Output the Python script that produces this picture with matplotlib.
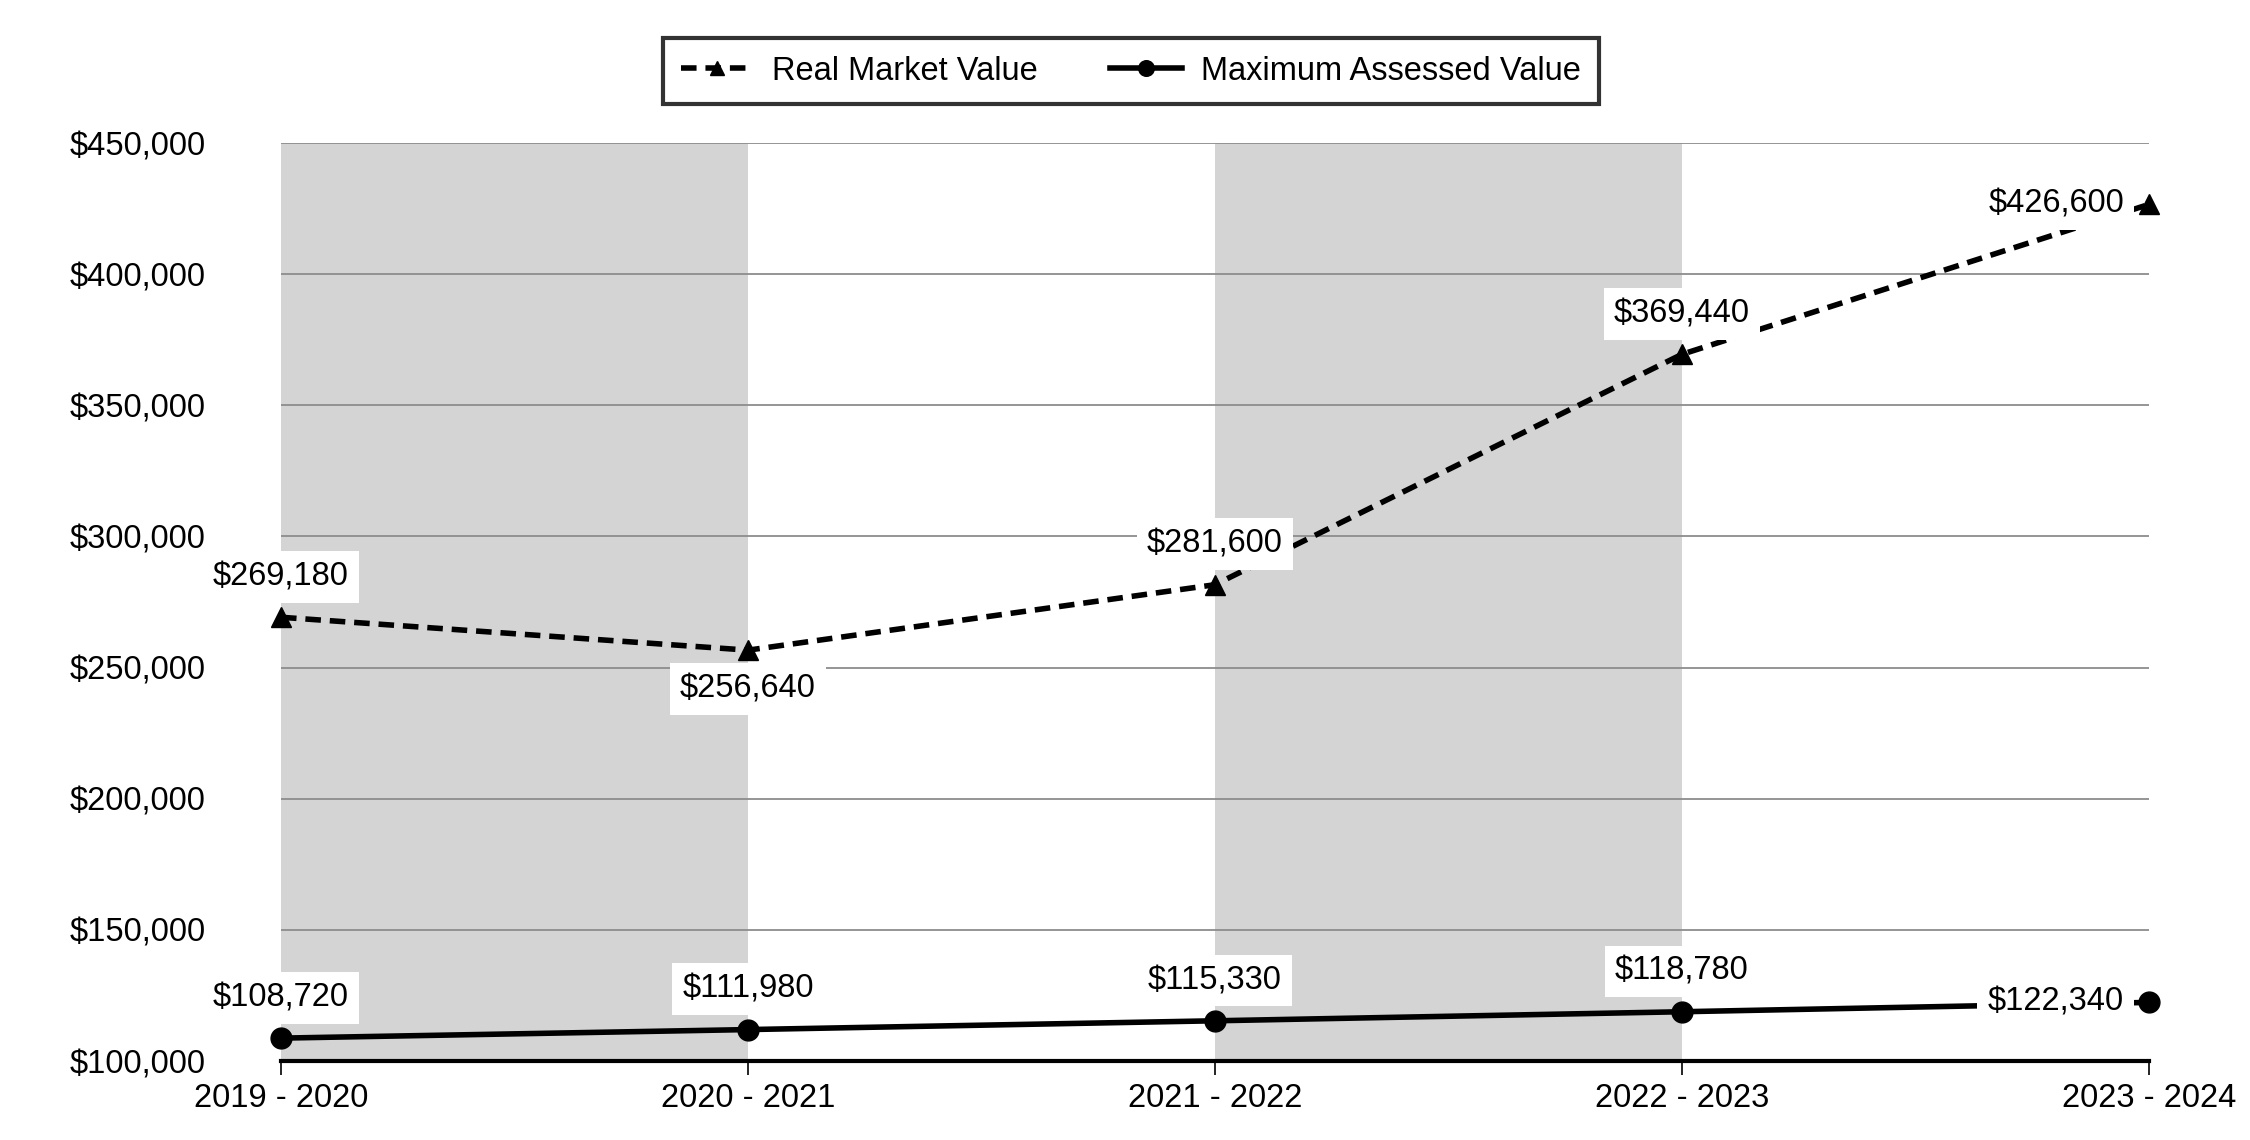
import numpy as np
import matplotlib.pyplot as plt

plt.rcParams['font.family'] = ['Liberation Sans', 'DejaVu Sans']

years = ["2019 - 2020", "2020 - 2021", "2021 - 2022", "2022 - 2023", "2023 - 2024"]
real_market = [269180, 256640, 281600, 369440, 426600]
max_assessed = [108720, 111980, 115330, 118780, 122340]
rmv_pos = ["above", "below", "above", "above", "left"]
mav_pos = ["above", "above", "above", "above", "left"]

FS = 23.5

fig = plt.figure(figsize=(22.5, 11.4), dpi=100)
ax = fig.add_axes([281 / 2250, 1 - 1061 / 1140, (2149 - 281) / 2250, (1061 - 143) / 1140])

x = np.arange(len(years))

# alternating shaded bands
for i in range(0, len(years) - 1, 2):
    ax.axvspan(x[i], x[i + 1], color="#d4d4d4", zorder=0, lw=0)

ax.set_ylim(100000, 450000)
ax.set_xlim(x[0], x[-1])
ax.set_yticks(np.arange(100000, 450001, 50000))
ax.yaxis.grid(True, color="#8c8c8c", lw=1.3, zorder=1)
ax.set_axisbelow(True)

l1, = ax.plot(x, real_market, ls=(0, (2.8, 1.6)), color="black", lw=4, marker="^",
              ms=14, zorder=3, label="Real Market Value", clip_on=False)
l2, = ax.plot(x, max_assessed, ls="-", color="black", lw=4, marker="o",
              ms=15, zorder=3, label="Maximum Assessed Value", clip_on=False)

box = dict(boxstyle="square,pad=0.32", fc="white", ec="none")


def label(xi, val, pos):
    txt = "${:,}".format(val)
    if pos == "above":
        ax.annotate(txt, (xi, val), xytext=(0, 29), textcoords="offset points",
                    ha="center", va="center", fontsize=FS, bbox=box, zorder=4)
    elif pos == "below":
        ax.annotate(txt, (xi, val), xytext=(0, -28), textcoords="offset points",
                    ha="center", va="center", fontsize=FS, bbox=box, zorder=4)
    else:
        ax.annotate(txt, (xi, val), xytext=(-18, 0), textcoords="offset points",
                    ha="right", va="center", fontsize=FS, bbox=box, zorder=4)


for xi, v, p in zip(x, real_market, rmv_pos):
    label(xi, v, p)
for xi, v, p in zip(x, max_assessed, mav_pos):
    label(xi, v, p)

ax.set_xticks(x)
ax.set_xticklabels(years, fontsize=FS)
ax.yaxis.set_major_formatter(plt.FuncFormatter(lambda v, p: "${:,.0f}".format(v)))
ax.tick_params(axis="y", length=0, labelsize=FS, pad=54)
ax.tick_params(axis="x", length=10, width=1.2, pad=6)

for s in ["left", "right", "top"]:
    ax.spines[s].set_visible(False)
ax.spines["bottom"].set_linewidth(3)

leg = fig.legend(handles=[l1, l2], loc="center", bbox_to_anchor=(1131 / 2250, 1 - 71 / 1140),
                 ncol=2, fontsize=FS, frameon=True, fancybox=False, edgecolor="black",
                 handlelength=2.2, columnspacing=2.2, borderpad=0.55, markerscale=0.75,
                 handletextpad=0.6)
leg.get_frame().set_linewidth(3)

fig.savefig("out.png", dpi=100, facecolor="white")
